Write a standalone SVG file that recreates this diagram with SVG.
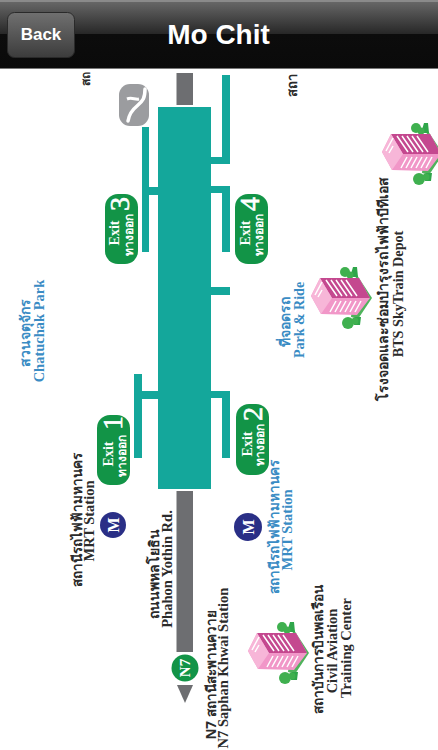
<svg xmlns="http://www.w3.org/2000/svg" width="438" height="750" viewBox="0 0 438 750">
<style>
.s{font-family:"Liberation Serif","Noto Sans",serif;font-weight:700;text-anchor:middle}
.t{font-family:"Noto Sans","DejaVu Sans","Liberation Sans",sans-serif;font-weight:700;text-anchor:middle}
.n{font-family:"Liberation Serif",serif;font-size:28px;text-anchor:middle;fill:#fff;stroke:#fff;stroke-width:.6}
.k{fill:#2b2b2b}.b{fill:#3a8cc4}.w{fill:#fff}
.p{fill:#14a79b}.r{fill:#6d6e71}.g{fill:#129447}
</style>
<defs>
<linearGradient id="h" x1="0" y1="0" x2="0" y2="1"><stop offset="0" stop-color="#6a6a6a"/><stop offset=".5" stop-color="#262626"/><stop offset=".5" stop-color="#0c0c0c"/><stop offset="1" stop-color="#0a0a0a"/></linearGradient>
<linearGradient id="bt" x1="0" y1="0" x2="0" y2="1"><stop offset="0" stop-color="#707070"/><stop offset="1" stop-color="#3c3c3c"/></linearGradient>
<g id="bd">
<path d="M46 8L61 31L47 52L40 50L44 12Z" fill="#4fb35c"/>
<path d="M42 0l4 0l1 10h-8Z M44 50l6 0l-1 8h-6Z" fill="#2fa64a"/>
<circle cx="34" cy="5" r="5" fill="#3fb04f"/><circle cx="39" cy="8" r="3.500" fill="#3fb04f"/>
<circle cx="37" cy="56" r="6" fill="#3fb04f"/><circle cx="44" cy="54" r="3.500" fill="#3fb04f"/>
<path d="M0 29L9 11H48L59 31L46 48L10 47Z" fill="#f197c8"/>
<path d="M9 11H48L59 31H21Z" fill="#c4488f"/>
<path d="M0 29L9 11L21 31L10 47Z" fill="#f7b6d8"/>
<g stroke="#fff" stroke-width="1.500"><path d="M15 13L26 29M20 13L31 29M25 13L36 29M30 13L41 29M35 13L46 29"/><path d="M25 34L19 45M30 34L24 45M35 34L29 45M40 34L34 45M45 34L39 45M50 34L44 45"/><path d="M4 28L11 15M7 30L11 23"/></g>
</g>
</defs>
<rect width="438" height="750" fill="#fff"/>
<g id="clipped-labels">
<text class="t k" font-size="12" transform="translate(90,79) rotate(-90)">สถ</text>
<text class="t k" font-size="13" transform="translate(297,85) rotate(-90)">สถา</text>
</g>
<g id="header">
<rect width="438" height="69" fill="url(#h)"/>
<rect width="438" height="2" fill="#8a8a8a"/>
<rect y="68" width="438" height="1" fill="#777"/>
<rect x="7.500" y="12.500" width="67" height="45" rx="7" fill="url(#bt)" stroke="#2a2a2a"/>
<text x="41" y="40" font-family="Liberation Sans,sans-serif" font-weight="700" font-size="17" fill="#fff" text-anchor="middle">Back</text>
<text x="218.500" y="44" font-family="Liberation Sans,sans-serif" font-weight="700" font-size="28" fill="#fff" text-anchor="middle">Mo Chit</text>
</g>
<g id="connectors">
<rect class="r" x="176.500" y="73" width="16.500" height="32"/>
<path class="r" d="M176.500 491H193V652H176.500Z"/>
<path class="r" d="M177 685H193L185 703Z"/>
<path class="p" d="M222 75h8v89h-19v-7h11Z"/>
<path class="p" d="M211 186h19v66h-8v-59h-11Z"/>
<path class="p" d="M142 127h7v60h9v8h-9v57h-7Z"/>
<rect class="p" x="211" y="287" width="19" height="8"/>
<path class="p" d="M134 374h8v17h16v8h-16v59h-8Z"/>
<path class="p" d="M211 391h19v67h-8v-60h-11Z"/>
</g>
<g id="platform"><rect class="p" x="158" y="107" width="53" height="382"/></g>
<g id="icon">
<rect x="119" y="84" width="30" height="42" rx="11" fill="#9b9c9f"/>
<path d="M145 89c0 9-2 12-8 17-5 4-8 9-9 15" fill="none" stroke="#fff" stroke-width="3.500" stroke-linecap="round"/>
<path d="M127 99c5-2 8 1 12 0" fill="none" stroke="#fff" stroke-width="3"/>
</g>
<g id="exit3"><rect class="g" x="105" y="194" width="33" height="70" rx="13"/>
<text class="s w" font-size="14" transform="translate(119,233) rotate(-90)">Exit</text><text class="t w" font-size="12" transform="translate(133,235) rotate(-90)">ทางออก</text><text class="n" transform="translate(129,204) rotate(-90)">3</text></g>
<g id="exit4"><rect class="g" x="235" y="194" width="33" height="70" rx="13"/>
<text class="s w" font-size="14" transform="translate(250,233) rotate(-90)">Exit</text><text class="t w" font-size="12" transform="translate(263,235) rotate(-90)">ทางออก</text><text class="n" transform="translate(259,204) rotate(-90)">4</text></g>
<g id="exit1"><rect class="g" x="97" y="415" width="33" height="70" rx="13"/>
<text class="s w" font-size="14" transform="translate(113,454) rotate(-90)">Exit</text><text class="t w" font-size="12" transform="translate(126,456) rotate(-90)">ทางออก</text><text class="n" transform="translate(122,423) rotate(-90)">1</text></g>
<g id="exit2"><rect class="g" x="236" y="404" width="33" height="71" rx="13"/>
<text class="s w" font-size="14" transform="translate(252,444) rotate(-90)">Exit</text><text class="t w" font-size="12" transform="translate(264,445) rotate(-90)">ทางออก</text><text class="n" transform="translate(262,414) rotate(-90)">2</text></g>
<g id="mrt1"><circle cx="113" cy="525" r="13" fill="#2a2f86"/><text class="s w" font-size="16" transform="translate(119,525) rotate(-90)">M</text></g>
<g id="mrt2"><circle cx="248" cy="527" r="14" fill="#2a2f86"/><text class="s w" font-size="16" transform="translate(254,527) rotate(-90)">M</text></g>
<g id="n7"><circle cx="185" cy="668" r="15" fill="#fff"/><circle cx="185" cy="668" r="13.500" fill="#129447"/><text class="s w" font-size="15" transform="translate(190,668) rotate(-90)">N7</text></g>
<g id="bld1"><use href="#bd" x="382" y="123"/></g>
<g id="bld2"><use href="#bd" x="311" y="267"/></g>
<g id="bld3"><use href="#bd" x="248" y="622"/></g>
<g id="labels">
<text class="t b" font-size="14" transform="translate(30,333) rotate(-90)">สวนจตุจักร</text>
<text class="s b" font-size="14.500" transform="translate(44,331) rotate(-90)">Chatuchak Park</text>
<text class="t k" font-size="13.500" transform="translate(82,520) rotate(-90)">สถานีรถไฟฟ้ามหานคร</text>
<text class="s k" font-size="14.500" transform="translate(94,521) rotate(-90)">MRT Station</text>
<text class="t b" font-size="13.500" transform="translate(279,527) rotate(-90)">สถานีรถไฟฟ้ามหานคร</text>
<text class="s b" font-size="14.500" transform="translate(292,530) rotate(-90)">MRT Station</text>
<text class="t k" font-size="14" transform="translate(159,574) rotate(-90)">ถนนพหลโยธิน</text>
<text class="s k" font-size="14.500" transform="translate(172,569) rotate(-90)">Phahon Yothin Rd.</text>
<text class="t k" font-size="13.500" transform="translate(216,675) rotate(-90)">N7 สถานีสะพานควาย</text>
<text class="s k" font-size="14.500" transform="translate(228,668) rotate(-90)">N7 Saphan Khwai Station</text>
<text class="t b" font-size="14" transform="translate(290,322) rotate(-90)">ที่จอดรถ</text>
<text class="s b" font-size="14" transform="translate(304,320) rotate(-90)">Park &amp; Ride</text>
<text class="t k" font-size="14" transform="translate(388,289) rotate(-90)">โรงจอดและซ่อมบำรุงรถไฟฟ้าบีทีเอส</text>
<text class="s k" font-size="14.200" transform="translate(403,294) rotate(-90)">BTS SkyTrain Depot</text>
<text class="t k" font-size="13.800" transform="translate(323,649) rotate(-90)">สถาบันการบินพลเรือน</text>
<text class="s k" font-size="14.500" transform="translate(337,651) rotate(-90)">Civil Aviation</text>
<text class="s k" font-size="14.500" transform="translate(351,648) rotate(-90)">Training Center</text>
</g>
</svg>
